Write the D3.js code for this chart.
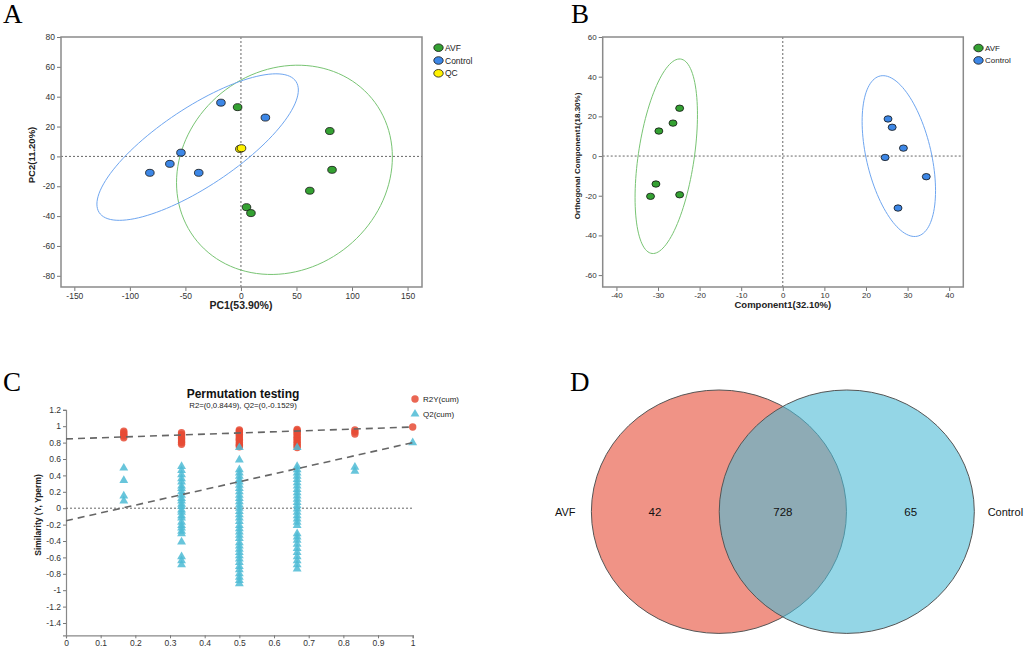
<!DOCTYPE html>
<html>
<head>
<meta charset="utf-8">
<script src="https://cdn.jsdelivr.net/npm/d3@7"></script>
<style>
  body { margin: 0; background: #fff; }
  svg { display: block; font-family: "Liberation Sans", Arial, sans-serif; }
  .tick text { fill: #333; }
  .tick line { stroke: #777; }
</style>
</head>
<body>
<svg id="fig" width="1024" height="648"></svg>
<script>
// ---------- panel A : PCA scores ----------
var pcaAvf     = [[-3, 33], [80, 17], [82, -9], [62, -23], [5, -34], [9, -38]];
var pcaControl = [[-18, 36], [22, 26], [-54, 2.5], [-64, -5], [-82, -11], [-38, -11]];
var pcaQc      = [[-1, 5], [0.5, 5.5]];
var pcaXTicks  = [-150, -100, -50, 0, 50, 100, 150];
var pcaYTicks  = [-80, -60, -40, -20, 0, 20, 40, 60, 80];

// ---------- panel B : OPLS-DA scores ----------
var oplsAvf     = [[-24.8, 24.1], [-26.4, 16.6], [-29.8, 12.6], [-30.5, -14.1], [-31.8, -20.3], [-24.8, -19.5]];
var oplsControl = [[25.3, 18.7], [26.3, 14.5], [29, 4], [24.6, -0.7], [34.5, -10.4], [27.7, -26.2]];
var oplsXTicks  = [-40, -30, -20, -10, 0, 10, 20, 30, 40];
var oplsYTicks  = [-60, -40, -20, 0, 20, 40, 60];

// ---------- panel C : permutation test ----------
var permR2 = [
  [0.1667, [0.94, 0.92, 0.90, 0.88, 0.86]],
  [0.3333, [0.92, 0.90, 0.885, 0.86, 0.845, 0.82, 0.80, 0.78]],
  [0.5,    [0.955, 0.94, 0.925, 0.90, 0.885, 0.86, 0.84, 0.825, 0.80, 0.78, 0.765, 0.75]],
  [0.6667, [0.96, 0.945, 0.92, 0.905, 0.88, 0.86, 0.845, 0.82, 0.80, 0.78, 0.76, 0.74]],
  [0.8333, [0.955, 0.93, 0.905]],
  [1,      [0.99]]
];
var permQ2 = [
  [0.1667, [0.49, 0.34, 0.15, 0.09]],
  [0.3333, [0.51, 0.46, 0.41, 0.36, 0.32, 0.27, 0.24, 0.20, 0.16, 0.12, 0.09, 0.05, 0.02, -0.02,
            -0.05, -0.09, -0.12, -0.17, -0.21, -0.24, -0.28, -0.31, -0.41, -0.59, -0.64, -0.69]],
  [0.5,    [0.74, 0.59, 0.47, 0.43, 0.39, 0.35, 0.32, 0.28, 0.24, 0.20, 0.16, 0.12, 0.08, 0.04, 0.0,
            -0.04, -0.08, -0.12, -0.16, -0.21, -0.25, -0.29, -0.33, -0.37, -0.42, -0.46, -0.50, -0.54,
            -0.58, -0.62, -0.66, -0.71, -0.75, -0.80, -0.84, -0.88, -0.92]],
  [0.6667, [0.74, 0.51, 0.47, 0.43, 0.39, 0.35, 0.31, 0.27, 0.23, 0.19, 0.15, 0.11, 0.07, 0.03, -0.01,
            -0.05, -0.09, -0.13, -0.17, -0.21, -0.31, -0.35, -0.39, -0.44, -0.49, -0.54, -0.59, -0.64,
            -0.69, -0.74]],
  [0.8333, [0.50, 0.45]],
  [1,      [0.80]]
];
var permR2Intercept = 0.8449;
var permQ2Intercept = -0.1529;
var permXTicks = [0, 0.1, 0.2, 0.3, 0.4, 0.5, 0.6, 0.7, 0.8, 0.9, 1];
var permYTicks = [-1.4, -1.2, -1, -0.8, -0.6, -0.4, -0.2, 0, 0.2, 0.4, 0.6, 0.8, 1, 1.2];

// ---------- panel D : venn ----------
var vennSets    = ["AVF", "Control"];
var vennRegions = ["AVF", "both", "Control"];
var vennCounts  = [42, 728, 65];

var GREEN = "#34a132", BLUE = "#3d87e6", YELLOW = "#fff200";
var RED_C = "#E64B35", BLUE_C = "#4DBBD5";

document.addEventListener('DOMContentLoaded', function(){
    var svg = d3.select("#fig");
    drawPca(svg);
    drawOpls(svg);
    drawPerm(svg);
    drawVenn(svg);
    drawLetters(svg);
}, false);

function drawLetters(svg){
    var letters = [["A", 3, 23], ["B", 571, 23], ["C", 3, 391], ["D", 570, 391]];
    svg.selectAll(".letter").data(letters).enter().append("text")
        .attr("class", "letter")
        .attr("x", d => d[1])
        .attr("y", d => d[2])
        .attr("font-family", "'Liberation Serif', 'Times New Roman', serif")
        .attr("font-size", 27)
        .text(d => d[0]);
}

// 95% normal confidence ellipse of a group, in data units
function ellipsePath(pts, xs, ys){
    var n = pts.length;
    var mx = d3.mean(pts, p => p[0]), my = d3.mean(pts, p => p[1]);
    var sxx = d3.sum(pts, p => (p[0]-mx)*(p[0]-mx)) / (n-1);
    var syy = d3.sum(pts, p => (p[1]-my)*(p[1]-my)) / (n-1);
    var sxy = d3.sum(pts, p => (p[0]-mx)*(p[1]-my)) / (n-1);
    var k = Math.sqrt(5.991);
    var l11 = Math.sqrt(sxx), l21 = sxy / l11, l22 = Math.sqrt(syy - l21*l21);
    var ring = d3.range(0, 360, 3).map(function(a){
        var t = a * Math.PI / 180, c = Math.cos(t), s = Math.sin(t);
        return [mx + k*l11*c, my + k*(l21*c + l22*s)];
    });
    return d3.line().x(d => xs(d[0])).y(d => ys(d[1])).curve(d3.curveCardinalClosed)(ring);
}

function scoreFrame(g, x, y, xt, yt, fs){
    var x0 = x.range()[0], x1 = x.range()[1], y0 = y.range()[0], y1 = y.range()[1];
    g.append("g").attr("transform", "translate(0," + y0 + ")")
        .call(d3.axisBottom(x).tickValues(xt).tickSize(4).tickPadding(1.5).tickFormat(d => String(d)))
        .call(a => a.select(".domain").remove())
        .selectAll("text").attr("font-size", fs);
    g.append("g").attr("transform", "translate(" + x0 + ",0)")
        .call(d3.axisLeft(y).tickValues(yt).tickSize(4).tickPadding(2).tickFormat(d => String(d)))
        .call(a => a.select(".domain").remove())
        .selectAll("text").attr("font-size", fs);
    g.append("line").attr("x1", x(0)).attr("x2", x(0)).attr("y1", y1).attr("y2", y0)
        .attr("stroke", "#666").attr("stroke-dasharray", "2,2");
    g.append("line").attr("x1", x0).attr("x2", x1).attr("y1", y(0)).attr("y2", y(0))
        .attr("stroke", "#666").attr("stroke-dasharray", "2,2");
    g.append("rect").attr("x", x0).attr("y", y1).attr("width", x1 - x0).attr("height", y0 - y1)
        .attr("fill", "none").attr("stroke", "#8a8a8a").attr("stroke-width", 1.5);
}

function dots(g, pts, x, y, col, rx, ry){
    g.selectAll(null).data(pts).enter().append("ellipse")
        .attr("cx", d => x(d[0])).attr("cy", d => y(d[1]))
        .attr("rx", rx).attr("ry", ry)
        .attr("fill", col).attr("stroke", "#111").attr("stroke-width", 0.8);
}

function legend(g, items, x, y0, step, fs){
    items.forEach(function(it, i){
        g.append("ellipse").attr("cx", x).attr("cy", y0 + i*step).attr("rx", 4.7).attr("ry", 3.8)
            .attr("fill", it[1]).attr("stroke", "#111").attr("stroke-width", 0.8);
        g.append("text").attr("x", x + 6.5).attr("y", y0 + i*step + 3).attr("font-size", fs)
            .attr("fill", "#222").text(it[0]);
    });
}

function drawPca(svg){
    var g = svg.append("g");
    var x = d3.scaleLinear().domain([-162, 163]).range([61, 422]);
    var y = d3.scaleLinear().domain([-87.5, 80]).range([287, 37]);
    scoreFrame(g, x, y, pcaXTicks, pcaYTicks, 8.5);

    g.append("path").attr("d", ellipsePath(pcaAvf, x, y)).attr("fill", "none").attr("stroke", "#78c473").attr("stroke-width", 1);
    g.append("path").attr("d", ellipsePath(pcaControl, x, y)).attr("fill", "none").attr("stroke", "#6fa6f0").attr("stroke-width", 1);

    dots(g, pcaControl, x, y, BLUE, 4.3, 3.5);
    dots(g, pcaAvf, x, y, GREEN, 4.3, 3.5);
    dots(g, pcaQc, x, y, YELLOW, 4.3, 3.5);

    g.append("text").attr("x", x(0)).attr("y", 309)
        .attr("text-anchor", "middle").attr("font-weight", "bold").attr("font-size", 10.5).attr("fill", "#222")
        .text("PC1(53.90%)");
    g.append("text").attr("transform", "translate(35,155) rotate(-90)")
        .attr("text-anchor", "middle").attr("font-weight", "bold").attr("font-size", 9.5).attr("fill", "#222")
        .text("PC2(11.20%)");

    legend(g, [["AVF", GREEN], ["Control", BLUE], ["QC", YELLOW]], 438.5, 47.7, 12.8, 8.5);
}

function drawOpls(svg){
    var g = svg.append("g");
    var x = d3.scaleLinear().domain([-43.3, 43.4]).range([602.7, 963.3]);
    var y = d3.scaleLinear().domain([-66, 60]).range([287, 37]);
    scoreFrame(g, x, y, oplsXTicks, oplsYTicks, 8);

    g.append("path").attr("d", ellipsePath(oplsAvf, x, y)).attr("fill", "none").attr("stroke", "#78c473").attr("stroke-width", 1);
    g.append("path").attr("d", ellipsePath(oplsControl, x, y)).attr("fill", "none").attr("stroke", "#6fa6f0").attr("stroke-width", 1);

    dots(g, oplsAvf, x, y, GREEN, 4, 3.2);
    dots(g, oplsControl, x, y, BLUE, 4, 3.2);

    g.append("text").attr("x", x(0)).attr("y", 308)
        .attr("text-anchor", "middle").attr("font-weight", "bold").attr("font-size", 9.5).attr("fill", "#222")
        .text("Component1(32.10%)");
    g.append("text").attr("transform", "translate(580,156) rotate(-90)")
        .attr("text-anchor", "middle").attr("font-weight", "bold").attr("font-size", 8).attr("fill", "#222")
        .text("Orthogonal Component1(18.30%)");

    legend(g, [["AVF", GREEN], ["Control", BLUE]], 978.5, 48, 12.4, 8);
}

function drawPerm(svg){
    var g = svg.append("g");
    var x = d3.scaleLinear().domain([0, 1]).range([66, 412.7]);
    var y = d3.scaleLinear().domain([-1.55, 1.2]).range([635.3, 409.8]);
    var fmt = d => String(+d.toFixed(1));

    g.append("g").attr("transform", "translate(0," + y(-1.55) + ")")
        .call(d3.axisBottom(x).tickValues(permXTicks).tickSize(3).tickPadding(2).tickFormat(fmt))
        .call(a => a.select(".domain").attr("stroke", "#888").attr("stroke-width", 1.2))
        .selectAll("text").attr("font-size", 8.5);
    g.append("g").attr("transform", "translate(" + x(0) + ",0)")
        .call(d3.axisLeft(y).tickValues(permYTicks).tickSize(3).tickPadding(2).tickFormat(fmt))
        .call(a => a.select(".domain").attr("stroke", "#888").attr("stroke-width", 1.2))
        .selectAll("text").attr("font-size", 8.5);

    g.append("line").attr("x1", x(0)).attr("x2", x(1)).attr("y1", y(0)).attr("y2", y(0))
        .attr("stroke", "#666").attr("stroke-dasharray", "2,2");

    var r2Pts = [], q2Pts = [];
    permR2.forEach(c => c[1].forEach(v => r2Pts.push([c[0], v])));
    permQ2.forEach(c => c[1].forEach(v => q2Pts.push([c[0], v])));

    g.selectAll(null).data(r2Pts).enter().append("circle")
        .attr("cx", d => x(d[0])).attr("cy", d => y(d[1])).attr("r", 3.7)
        .attr("fill", RED_C).attr("fill-opacity", 0.85);
    var tri = d3.symbol().type(d3.symbolTriangle).size(34);
    g.selectAll(null).data(q2Pts).enter().append("path")
        .attr("d", tri).attr("transform", d => "translate(" + x(d[0]) + "," + y(d[1]) + ")")
        .attr("fill", BLUE_C).attr("fill-opacity", 0.85);

    // regression lines from intercept to the original model
    var r2Orig = permR2[permR2.length - 1][1][0], q2Orig = permQ2[permQ2.length - 1][1][0];
    var lines = [[permR2Intercept, r2Orig], [permQ2Intercept, q2Orig]];
    g.selectAll(null).data(lines).enter().append("line")
        .attr("x1", x(0)).attr("y1", d => y(d[0])).attr("x2", x(1)).attr("y2", d => y(d[1]))
        .attr("stroke", "#666").attr("stroke-width", 1.6).attr("stroke-dasharray", "7,5");

    g.append("text").attr("x", 243).attr("y", 398).attr("text-anchor", "middle")
        .attr("font-weight", "bold").attr("font-size", 12).attr("fill", "#111").text("Permutation testing");
    g.append("text").attr("x", 243).attr("y", 408).attr("text-anchor", "middle")
        .attr("font-size", 7.8).attr("fill", "#222")
        .text("R2=(0," + permR2Intercept + "), Q2=(0," + permQ2Intercept + ")");
    g.append("text").attr("transform", "translate(41,515) rotate(-90)").attr("text-anchor", "middle")
        .attr("font-weight", "bold").attr("font-size", 8.5).attr("fill", "#222").text("Similarity (Y, Yperm)");

    // legend
    g.append("circle").attr("cx", 415).attr("cy", 399).attr("r", 3.7).attr("fill", RED_C).attr("fill-opacity", 0.85);
    g.append("text").attr("x", 423).attr("y", 402).attr("font-size", 8).attr("fill", "#222").text("R2Y(cum)");
    g.append("path").attr("d", tri).attr("transform", "translate(415,414)").attr("fill", BLUE_C).attr("fill-opacity", 0.85);
    g.append("text").attr("x", 423).attr("y", 417).attr("font-size", 8).attr("fill", "#222").text("Q2(cum)");
}

function drawVenn(svg){
    var g = svg.append("g");
    var vx = d3.scalePoint().domain(vennRegions).range([655, 910.7]);
    var step = vx.step();          // distance between region labels = circle radius
    var cy = 511.7;
    var circles = [
        {name: vennSets[0], cx: (vx("AVF") + vx("both")) / 2, fill: RED_C},
        {name: vennSets[1], cx: (vx("both") + vx("Control")) / 2, fill: BLUE_C}
    ];
    g.selectAll(null).data(circles).enter().append("ellipse")
        .attr("cx", d => d.cx).attr("cy", cy).attr("rx", step - 0.3).attr("ry", step * 0.952)
        .attr("fill", d => d.fill).attr("fill-opacity", 0.6)
        .attr("stroke", "#555").attr("stroke-width", 1);

    g.selectAll(null).data(vennRegions).enter().append("text")
        .attr("x", d => vx(d)).attr("y", cy + 4.5).attr("text-anchor", "middle")
        .attr("font-size", 11.5).attr("fill", "#111")
        .text((d, i) => vennCounts[i]);

    g.append("text").attr("x", circles[0].cx - step - 15.5).attr("y", cy + 4.5).attr("text-anchor", "end")
        .attr("font-size", 11).attr("fill", "#111").text(vennSets[0]);
    g.append("text").attr("x", circles[1].cx + step + 13).attr("y", cy + 4.5)
        .attr("font-size", 11).attr("fill", "#111").text(vennSets[1]);
}
</script>
</body>
</html>
